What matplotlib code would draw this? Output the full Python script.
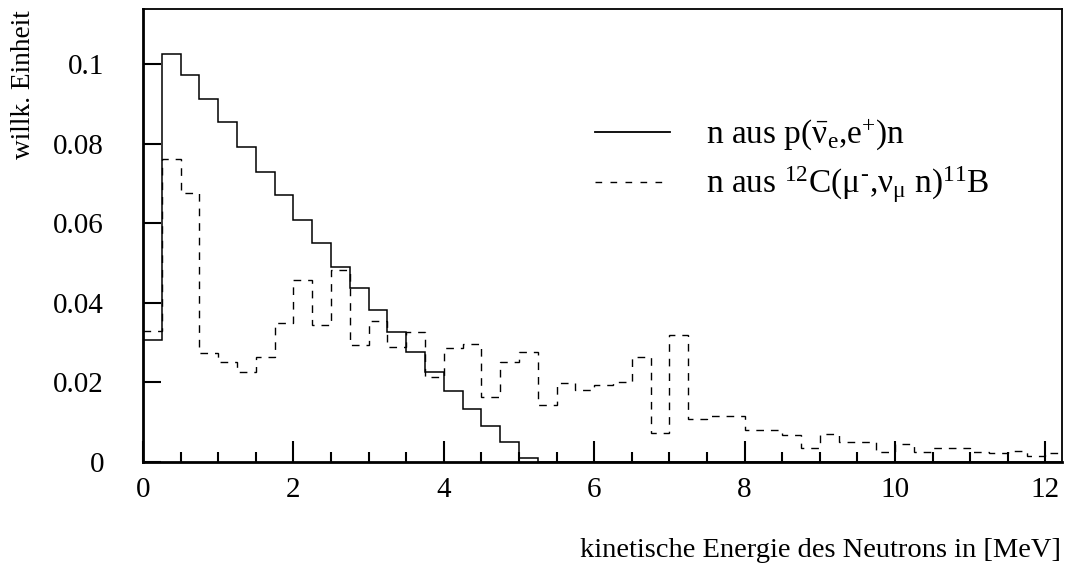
import numpy as np
import matplotlib
matplotlib.use("Agg")
import matplotlib.pyplot as plt
from matplotlib.ticker import MultipleLocator

plt.rcParams['font.family'] = ['Liberation Serif', 'DejaVu Serif']
plt.rcParams['mathtext.fontset'] = 'custom'
plt.rcParams['mathtext.rm'] = 'Liberation Serif'
plt.rcParams['mathtext.it'] = 'Liberation Serif'
plt.rcParams['mathtext.bf'] = 'Liberation Serif:bold'

bin_edges = np.arange(0, 12.5 + 0.001, 0.25)

solid_values = [0.0307, 0.1025, 0.0971, 0.0913, 0.0854, 0.0791, 0.0729, 0.0670,
                0.0608, 0.0550, 0.0491, 0.0436, 0.0381, 0.0327, 0.0276, 0.0226,
                0.0179, 0.0134, 0.0090, 0.0050, 0.0011, 0, 0, 0, 0,
                0, 0, 0, 0, 0, 0, 0, 0, 0, 0, 0, 0, 0, 0, 0,
                0, 0, 0, 0, 0, 0, 0, 0, 0, 0]

dashed_values = [0.0328, 0.0760, 0.0677, 0.0273, 0.0250, 0.0227, 0.0264, 0.0350,
                 0.0457, 0.0344, 0.0482, 0.0295, 0.0353, 0.0290, 0.0327, 0.0214,
                 0.0287, 0.0296, 0.0164, 0.0251, 0.0276, 0.0143, 0.0198, 0.0180,
                 0.0193, 0.0202, 0.0265, 0.0074, 0.0318, 0.0107, 0.0116, 0.0115,
                 0.0081, 0.0081, 0.0067, 0.0035, 0.0070, 0.0049, 0.0051, 0.0024,
                 0.0046, 0.0026, 0.0034, 0.0034, 0.0026, 0.0022, 0.0028, 0.0016,
                 0.0023, 0.0023]

y_ticks = [0, 0.02, 0.04, 0.06, 0.08, 0.1]
y_ticklabels = ['0', '0.02', '0.04', '0.06', '0.08', '0.1']

label_solid = r'n aus p($\bar{\nu}_{e}$,e$^{+}$)n'
label_dashed = r'n aus $^{12}$C($\mu^{\text{-}}$,$\nu_{\mu}$ n)$^{11}$B'
x_label = 'kinetische Energie des Neutrons in [MeV]'
y_label = 'willk. Einheit'

W, H = 1068, 567
fig = plt.figure(figsize=(W / 100, H / 100), dpi=100)
ax = fig.add_axes([143/W, 1 - 462/H, (1062 - 143)/W, (462 - 9)/H])

ax.stairs(solid_values, bin_edges, color='black', lw=1.1, baseline=None)
ax.stairs(dashed_values, bin_edges, color='black', lw=1.0, baseline=None,
          linestyle=(0, (5.5, 5)))

ax.set_xlim(0, 12.22)
ax.set_ylim(0, 0.1138)

ax.xaxis.set_major_locator(MultipleLocator(2))
ax.xaxis.set_minor_locator(MultipleLocator(0.5))
ax.set_yticks(y_ticks)
ax.set_yticklabels(y_ticklabels)
ax.tick_params(axis='both', which='both', direction='in', top=False, right=False,
               labelsize=21, width=1.5)
ax.tick_params(axis='x', which='major', length=15, pad=11)
ax.tick_params(axis='x', which='minor', length=7)
ax.tick_params(axis='y', which='major', length=13, pad=28)
for s in ax.spines.values():
    s.set_linewidth(1.3)
ax.spines['left'].set_linewidth(2)
ax.spines['bottom'].set_linewidth(2)

# legend
ax.plot([595/W, 670/W], [1 - 131.5/H] * 2, transform=fig.transFigure,
        color='black', lw=1.3, clip_on=False)
ax.plot([595/W, 670/W], [1 - 182/H] * 2, transform=fig.transFigure,
        color='black', lw=1.0, linestyle=(0, (4.8, 6)), clip_on=False)
fig.text(706/W, 1 - 143/H, label_solid, fontsize=24, va='baseline', ha='left')
fig.text(706/W, 1 - 193/H, label_dashed, fontsize=24, va='baseline', ha='left')

fig.text(1061/W, 1 - 557/H, x_label, fontsize=20.5, ha='right', va='baseline')
fig.text(24/W, 1 - 10/H, y_label, fontsize=19.7, rotation=90,
         ha='center', va='top')

fig.savefig('out.png', dpi=100)
